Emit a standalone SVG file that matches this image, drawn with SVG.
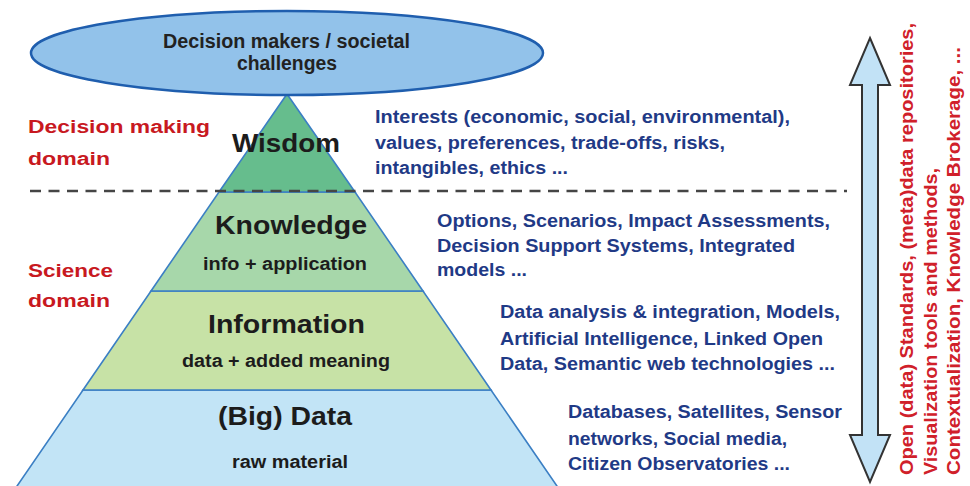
<svg xmlns="http://www.w3.org/2000/svg" width="970" height="486" viewBox="0 0 970 486">
<style>
text{font-family:"Liberation Sans",Arial,sans-serif;}
.dark{fill:#1c1c1c;}
.lvl{font-size:25px;font-weight:bold;}
.sub{font-size:18px;font-weight:bold;}
.blue{fill:#1f3a86;font-size:17.5px;font-weight:bold;}
.red{fill:#c8191f;font-size:18px;font-weight:bold;}
.vred{fill:#d0202a;font-size:19px;font-weight:bold;}
.layer{stroke:#3b7fc4;stroke-width:1.6;}
</style>
<rect width="970" height="486" fill="#ffffff"/>
<g id="pyramid-data">
<polygon class="layer" points="83,390 491,390 559,489 15,489" fill="#c2e4f6"/>
<text class="dark lvl" x="218" y="425" textLength="134" lengthAdjust="spacingAndGlyphs">(Big) Data</text>
<text class="dark sub" x="232" y="468" font-size="17" textLength="116" lengthAdjust="spacingAndGlyphs">raw material</text>
</g>
<g id="pyramid-information">
<polygon class="layer" points="151,291 423,291 491,390 83,390" fill="#c7e2a6"/>
<text class="dark lvl" x="208" y="333" textLength="157" lengthAdjust="spacingAndGlyphs">Information</text>
<text class="dark sub" x="182" y="367" textLength="208" lengthAdjust="spacingAndGlyphs">data + added meaning</text>
</g>
<g id="pyramid-knowledge">
<polygon class="layer" points="219,192 355,192 423,291 151,291" fill="#a7d7aa"/>
<text class="dark lvl" x="215" y="234" textLength="152" lengthAdjust="spacingAndGlyphs">Knowledge</text>
<text class="dark sub" x="203" y="270" textLength="164" lengthAdjust="spacingAndGlyphs">info + application</text>
</g>
<g id="pyramid-wisdom">
<polygon class="layer" points="287,94 355,192 219,192" fill="#66bd8d"/>
<text class="dark lvl" x="232" y="152" font-size="26" textLength="108" lengthAdjust="spacingAndGlyphs">Wisdom</text>
</g>
<g id="decision-makers">
<ellipse cx="287" cy="53" rx="256" ry="42" fill="#92c2ea" stroke="#1f5eae" stroke-width="2.5"/>
<text x="163" y="48" font-size="20" font-weight="bold" fill="#222" textLength="247" lengthAdjust="spacingAndGlyphs">Decision makers / societal</text>
<text x="237" y="70" font-size="20" font-weight="bold" fill="#222" textLength="100" lengthAdjust="spacingAndGlyphs">challenges</text>
</g>
<g id="domain-labels">
<text class="red" x="28" y="133" textLength="182" lengthAdjust="spacingAndGlyphs">Decision making</text>
<text class="red" x="28" y="165" textLength="82" lengthAdjust="spacingAndGlyphs">domain</text>
<text class="red" x="28" y="277" textLength="85" lengthAdjust="spacingAndGlyphs">Science</text>
<text class="red" x="28" y="307" textLength="82" lengthAdjust="spacingAndGlyphs">domain</text>
</g>
<g id="wisdom-notes">
<text class="blue" x="375" y="123" textLength="415" lengthAdjust="spacingAndGlyphs">Interests (economic, social, environmental),</text>
<text class="blue" x="375" y="149" textLength="350" lengthAdjust="spacingAndGlyphs">values, preferences, trade-offs, risks,</text>
<text class="blue" x="375" y="174" textLength="193" lengthAdjust="spacingAndGlyphs">intangibles, ethics ...</text>
</g>
<g id="knowledge-notes">
<text class="blue" x="437" y="227" textLength="393" lengthAdjust="spacingAndGlyphs">Options, Scenarios, Impact Assessments,</text>
<text class="blue" x="437" y="252" textLength="358" lengthAdjust="spacingAndGlyphs">Decision Support Systems, Integrated</text>
<text class="blue" x="437" y="276" textLength="90" lengthAdjust="spacingAndGlyphs">models ...</text>
</g>
<g id="information-notes">
<text class="blue" x="500" y="318" textLength="340" lengthAdjust="spacingAndGlyphs">Data analysis &amp; integration, Models,</text>
<text class="blue" x="500" y="345" textLength="323" lengthAdjust="spacingAndGlyphs">Artificial Intelligence, Linked Open</text>
<text class="blue" x="500" y="370" textLength="335" lengthAdjust="spacingAndGlyphs">Data, Semantic web technologies ...</text>
</g>
<g id="data-notes">
<text class="blue" x="568" y="418" textLength="274" lengthAdjust="spacingAndGlyphs">Databases, Satellites, Sensor</text>
<text class="blue" x="568" y="445" textLength="219" lengthAdjust="spacingAndGlyphs">networks, Social media,</text>
<text class="blue" x="568" y="470" textLength="222" lengthAdjust="spacingAndGlyphs">Citizen Observatories ...</text>
</g>
<g id="connectors">
<line x1="30" y1="191" x2="847" y2="191" stroke="#454545" stroke-width="2.5" stroke-dasharray="11 7.5"/>
<polygon points="870,38 890,85 878,85 878,435 890,435 870,482 850,435 862,435 862,85 850,85" fill="#c2e2f6" stroke="#333" stroke-width="2" stroke-linejoin="miter"/>
</g>
<g id="tools-label">
<text class="vred" transform="rotate(-90 913 475)" x="913" y="475" textLength="452" lengthAdjust="spacingAndGlyphs">Open (data) Standards, (meta)data repositories,</text>
<text class="vred" transform="rotate(-90 937 475)" x="937" y="475" textLength="307" lengthAdjust="spacingAndGlyphs">Visualization tools and methods,</text>
<text class="vred" transform="rotate(-90 960 475)" x="960" y="475" textLength="428" lengthAdjust="spacingAndGlyphs">Contextualization, Knowledge Brokerage, ...</text>
</g>
</svg>
